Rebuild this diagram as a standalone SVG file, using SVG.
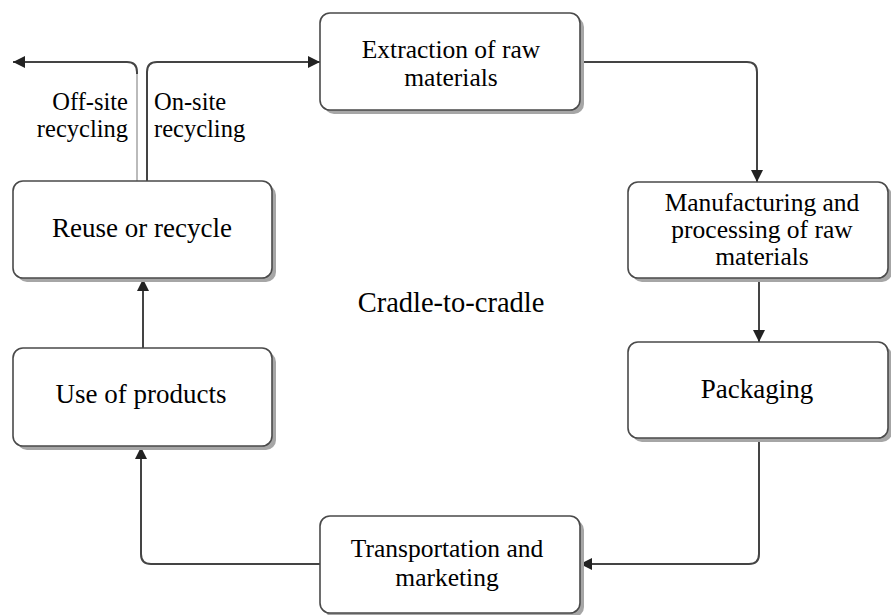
<svg xmlns="http://www.w3.org/2000/svg" width="891" height="615" viewBox="0 0 891 615">
<defs>
<style>
.box{fill:#fff;stroke:#4a4a4a;stroke-width:1.6}
.shadow{fill:#a6a6a6}
.lbl{font-family:"Liberation Serif","Times New Roman",serif;font-size:27px;fill:#000;text-anchor:middle}
.ml{font-size:25.5px}
.small{font-family:"Liberation Serif","Times New Roman",serif;font-size:24.5px;fill:#000}
.conn{fill:none;stroke:#444;stroke-width:2}
</style>
<marker id="arr" viewBox="0 0 12 12" refX="12" refY="6" markerWidth="12" markerHeight="12" markerUnits="userSpaceOnUse" orient="auto">
<path d="M0,0 L12,6 L0,12 Z" fill="#222"/>
</marker>
</defs>
<rect width="891" height="615" fill="#fff"/>

<g id="connectors">
<path class="conn" d="M580,62 H747 Q757,62 757,72 V182" marker-end="url(#arr)"/>
<path class="conn" d="M759,278 V342" marker-end="url(#arr)"/>
<path class="conn" d="M759,438 V554 Q759,564 749,564 H580" marker-end="url(#arr)"/>
<path class="conn" d="M320,564 H151 Q141,564 141,554 V447" marker-end="url(#arr)"/>
<path class="conn" d="M143,348 V279" marker-end="url(#arr)"/>
<path class="conn" d="M147,181 V72 Q147,62 157,62 H320" marker-end="url(#arr)"/>
<path fill="none" stroke="#bbb" stroke-width="2" d="M137,181 V74"/>
<path class="conn" d="M137,74 V72 Q137,62 127,62 H13" marker-end="url(#arr)"/>
</g>

<g id="label-offsite">
<text class="small" x="128" y="110" text-anchor="end">Off-site</text>
<text class="small" x="128" y="137" text-anchor="end">recycling</text>
</g>
<g id="label-onsite">
<text class="small" x="154" y="110">On-site</text>
<text class="small" x="154" y="137">recycling</text>
</g>

<g id="extraction">
<rect class="shadow" x="324" y="17" width="260" height="97" rx="10"/>
<rect class="box" x="320" y="13" width="260" height="97" rx="10"/>
<text class="lbl ml" x="451" y="58">Extraction of raw</text>
<text class="lbl ml" x="451" y="86">materials</text>
</g>

<g id="manufacturing">
<rect class="shadow" x="632" y="186" width="260" height="96" rx="10"/>
<rect class="box" x="628" y="182" width="260" height="96" rx="10"/>
<text class="lbl ml" x="762" y="211">Manufacturing and</text>
<text class="lbl ml" x="762" y="238">processing of raw</text>
<text class="lbl ml" x="762" y="265">materials</text>
</g>

<g id="packaging">
<rect class="shadow" x="632" y="346" width="260" height="96" rx="10"/>
<rect class="box" x="628" y="342" width="260" height="96" rx="10"/>
<text class="lbl" x="757" y="398">Packaging</text>
</g>

<g id="transportation">
<rect class="shadow" x="324" y="520" width="260" height="97" rx="10"/>
<rect class="box" x="320" y="516" width="260" height="97" rx="10"/>
<text class="lbl ml" x="447" y="557">Transportation and</text>
<text class="lbl ml" x="447" y="586">marketing</text>
</g>

<g id="use">
<rect class="shadow" x="17" y="352" width="259" height="98" rx="10"/>
<rect class="box" x="13" y="348" width="259" height="98" rx="10"/>
<text class="lbl" x="141" y="403">Use of products</text>
</g>

<g id="reuse">
<rect class="shadow" x="17" y="185" width="259" height="97" rx="10"/>
<rect class="box" x="13" y="181" width="259" height="97" rx="10"/>
<text class="lbl" x="142" y="237">Reuse or recycle</text>
</g>

<g id="center-label">
<text class="lbl" x="451" y="312" style="font-size:28.5px">Cradle-to-cradle</text>
</g>
</svg>
